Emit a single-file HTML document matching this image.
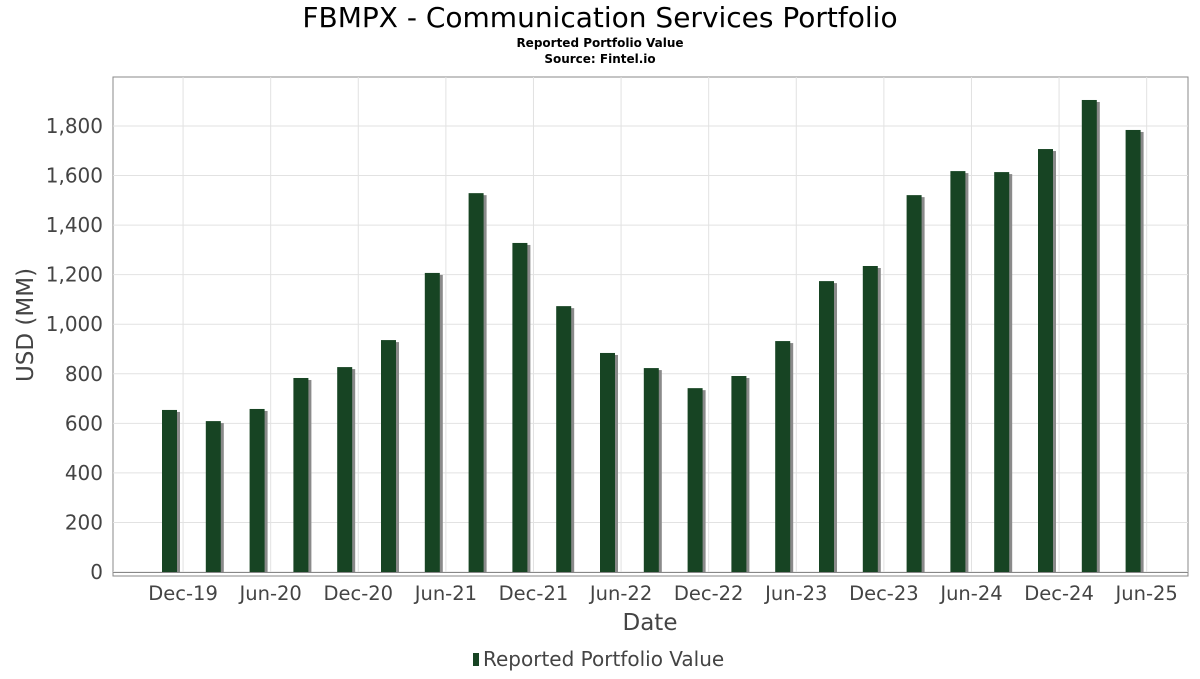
<!DOCTYPE html>
<html><head><meta charset="utf-8"><style>
body{margin:0;background:#fff;font-family:"DejaVu Sans","Liberation Sans",sans-serif;}
</style></head><body>
<svg id="chart" width="1200" height="675" xmlns="http://www.w3.org/2000/svg" font-family="DejaVu Sans, Liberation Sans, sans-serif">
<text x="600" y="27" text-anchor="middle" font-size="28" fill="#000">FBMPX - Communication Services Portfolio</text>
<text x="600" y="47" text-anchor="middle" font-size="12" font-weight="bold">Reported Portfolio Value</text>
<text x="600" y="63" text-anchor="middle" font-size="12" font-weight="bold">Source: Fintel.io</text>
<rect x="113" y="77" width="1075" height="499" fill="#fff" stroke="#888"/>
<g id="grid"></g><g id="bars"></g><g id="axes"></g>
<text transform="translate(33,325) rotate(-90)" text-anchor="middle" font-size="23" fill="#444">USD (MM)</text>
<text x="650" y="630" text-anchor="middle" font-size="23" fill="#444">Date</text>
<g>
<rect x="473" y="653" width="6" height="13" fill="#174423"/>
<text x="483" y="666" font-size="20" fill="#444">Reported Portfolio Value</text></g>
</svg>
<script>
const values=[654,609,658,783,827,936,1207,1529,1328,1073,884,823,742,791,932,1174,1235,1521,1618,1614,1707,1905,1784];
const tickLabels=["Dec-19","Jun-20","Dec-20","Jun-21","Dec-21","Jun-22","Dec-22","Jun-23","Dec-23","Jun-24","Dec-24","Jun-25"];
const yTicks=[0,200,400,600,800,1000,1200,1400,1600,1800];
const NS="http://www.w3.org/2000/svg";
const y=v=>572-v*(446/1800);
const x=i=>169.5+i*43.8;
function mk(t,a,p){const e=document.createElementNS(NS,t);for(const k in a)e.setAttribute(k,a[k]);p.appendChild(e);return e;}
const grid=document.getElementById('grid'),bars=document.getElementById('bars'),axes=document.getElementById('axes');
yTicks.forEach(v=>{
 const l=mk('line',{x1:113,x2:1188,y1:y(v),y2:y(v),stroke:'#e2e2e2'},grid);
 
 
 const t=mk('text',{x:103,y:y(v)+7,'text-anchor':'end','font-size':20,fill:'#444'},axes);
 t.textContent=v.toLocaleString('en-US');
 
 
});
tickLabels.forEach((s,k)=>{
 const px=x(0.31+2*k);
 const l=mk('line',{x1:px,x2:px,y1:77,y2:572,stroke:'#e2e2e2'},grid);
 
 
 const t=mk('text',{x:px,y:600,'text-anchor':'middle','font-size':19.5,fill:'#444'},axes);
 t.textContent=s;
 
 
});
mk('line',{x1:113,x2:1188,y1:572.5,y2:572.5,stroke:'#888'},axes);
values.forEach((v,i)=>{
 const s=mk('rect',{x:x(i)-7.5+3,y:y(v)+2,width:15,height:572-y(v)-2,fill:'#8a8a8a'},bars);
 
 
 const b=mk('rect',{x:x(i)-7.5,y:y(v),width:15,height:572-y(v),fill:'#174423'},bars);
 
 
});
</script>
</body></html>
